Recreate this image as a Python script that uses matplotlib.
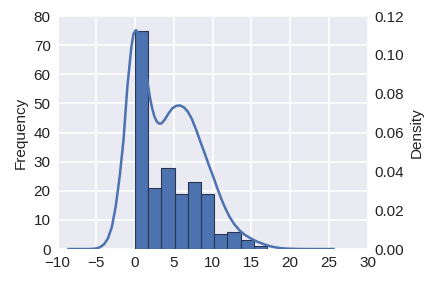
import matplotlib
matplotlib.use("Agg")
import matplotlib.pyplot as plt

# histogram: bin edges and counts
bin_left = [0.0, 1.7, 3.4, 5.1, 6.8, 8.5, 10.2, 11.9, 13.6, 15.3]
bin_width = 1.7
counts = [75, 21, 28, 19, 23, 19, 5, 6, 3, 1]

# kde curve (secondary axis)
kde_x = [-8.6, -6.0, -5.5, -5.0, -4.5, -4.0, -3.5, -3.0, -2.5, -2.0, -1.5,
         -1.0, -0.5, -0.2, 0.1, 0.4, 0.7, 1.0, 1.3, 1.6, 1.9, 2.2, 2.5,
         2.8, 3.1, 3.4, 3.8, 4.3, 4.8, 5.3, 5.8, 6.3, 6.8, 7.3, 7.9, 8.5,
         9.0, 9.5, 10.1, 10.6, 11.2, 11.7, 12.2, 12.8, 13.5, 14.2, 15.0,
         15.8, 16.7, 17.3, 17.9, 18.7, 19.6, 21.0, 22.5, 25.6]
kde_y = [0.0, 0.0, 0.0001, 0.0003, 0.001, 0.0025, 0.0055, 0.0113, 0.022,
         0.037, 0.056, 0.0835, 0.1035, 0.1110, 0.1128, 0.1115, 0.1070,
         0.1015, 0.0940, 0.0860, 0.0785, 0.0725, 0.0682, 0.0657, 0.0646,
         0.0647, 0.0665, 0.0698, 0.0725, 0.0738, 0.0740, 0.0730, 0.0708,
         0.0672, 0.0612, 0.0545, 0.0491, 0.0434, 0.0371, 0.0314, 0.0251,
         0.0205, 0.0165, 0.0128, 0.0095, 0.0072, 0.0053, 0.0037, 0.0024,
         0.0016, 0.0010, 0.0005, 0.0002, 0.00005, 0.0, 0.0]

plt.rcParams["font.family"] = ["Liberation Sans", "DejaVu Sans"]
plt.rcParams["font.size"] = 11

blue = "#4C72B0"
fig = plt.figure(figsize=(4.33, 2.83), dpi=100)
ax = fig.add_axes([0.133, 0.12, 0.716, 0.823])
ax.set_facecolor("#EAEAF2")
ax.set_axisbelow(True)
ax.grid(True, color="white", linewidth=1.2)
for s in ax.spines.values():
    s.set_visible(False)

ax.bar(bin_left, counts, width=bin_width, align="edge", color=blue,
       edgecolor="#2a3550", linewidth=0.8)
ax.set_xlim(-10, 30)
ax.set_ylim(0, 80)
ax.set_yticks(range(0, 81, 10))
ax.set_xticks(range(-10, 31, 5))
ax.tick_params(length=0, pad=5, colors="#222222")
ax.set_ylabel("Frequency", color="#222222")

ax2 = ax.twinx()
ax2.plot(kde_x, kde_y, color=blue, linewidth=1.8, solid_joinstyle="round")
ax2.set_ylim(0, 0.12)
ax2.set_yticks([0.0, 0.02, 0.04, 0.06, 0.08, 0.10, 0.12])
ax2.set_yticklabels([f"{v:.2f}" for v in ax2.get_yticks()])
ax2.grid(False)
for s in ax2.spines.values():
    s.set_visible(False)
ax2.tick_params(length=0, pad=5, colors="#222222")
ax2.set_ylabel("Density", color="#222222")

fig.savefig("out.png", dpi=100)
